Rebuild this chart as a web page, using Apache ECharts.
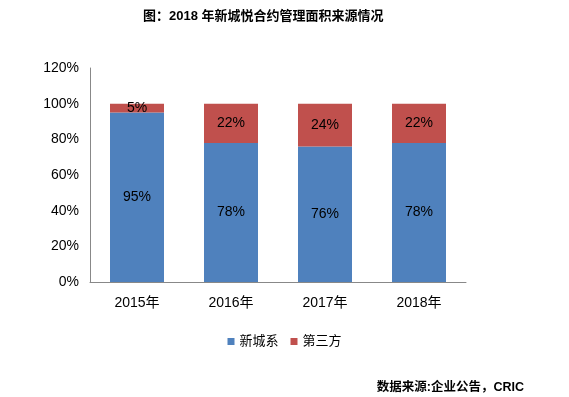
<!DOCTYPE html>
<html>
<head>
<meta charset="utf-8">
<script src="https://cdn.jsdelivr.net/npm/echarts@6/dist/echarts.min.js"></script>
<style>
	html, body { margin: 0; padding: 0; background: #fff; }
	#chart { width: 569px; height: 397px; }
</style>
</head>
<body>
<div id="chart"></div>
<script>
// 年份
var years = ['2015年', '2016年', '2017年', '2018年'];
// 新城系占比 (%)
var xinchengData = [95, 78, 76, 78];
// 第三方占比 (%)
var thirdData = [5, 22, 24, 22];
var yTicks = [0, 20, 40, 60, 80, 100, 120];

var chart = echarts.init(document.getElementById('chart'), null, { renderer: 'canvas' });
var fontFamily = 'Arial, "Liberation Sans", "Noto Sans CJK SC", sans-serif';

var labelStyle = {
	show: true,
	position: 'inside',
	color: '#000',
	fontSize: 14,
	fontFamily: fontFamily,
	formatter: function (p) {
		return p.value + '%';
	}
};

chart.setOption({
	animation: false,
	title: [{
		text: '图：2018 年新城悦合约管理面积来源情况',
		left: 138,
		top: 5,
		textStyle: { fontSize: 13, fontWeight: 'bold', color: '#000', fontFamily: fontFamily }
	}, {
		text: '数据来源:企业公告，CRIC',
		right: 40,
		top: 376,
		textStyle: { fontSize: 12.5, fontWeight: 'bold', color: '#000', fontFamily: fontFamily }
	}],
	legend: {
		data: ['新城系', '第三方'],
		bottom: 44,
		left: 'center',
		itemWidth: 7,
		itemHeight: 7,
		itemGap: 12,
		icon: 'rect',
		textStyle: { fontSize: 13, color: '#000', fontFamily: fontFamily }
	},
	grid: {
		left: 90,
		right: 103,
		top: 68,
		bottom: 115
	},
	xAxis: {
		type: 'category',
		data: years,
		axisLine: { lineStyle: { color: '#888' } },
		axisTick: { show: false },
		axisLabel: { color: '#000', fontSize: 14, fontFamily: fontFamily, margin: 14 }
	},
	yAxis: {
		type: 'value',
		min: yTicks[0],
		max: yTicks[yTicks.length - 1],
		interval: 20,
		axisLine: { show: true, lineStyle: { color: '#888' } },
		axisTick: { show: false },
		splitLine: { show: false },
		axisLabel: {
			color: '#000',
			fontSize: 14,
			fontFamily: fontFamily,
			margin: 11,
			formatter: '{value}%'
		}
	},
	series: [{
		name: '新城系',
		type: 'bar',
		stack: 'total',
		barWidth: 54,
		data: xinchengData,
		itemStyle: { color: '#4F81BD' },
		label: labelStyle
	}, {
		name: '第三方',
		type: 'bar',
		stack: 'total',
		barWidth: 54,
		data: thirdData,
		itemStyle: { color: '#C0504D' },
		label: labelStyle
	}]
});
</script>
</body>
</html>
